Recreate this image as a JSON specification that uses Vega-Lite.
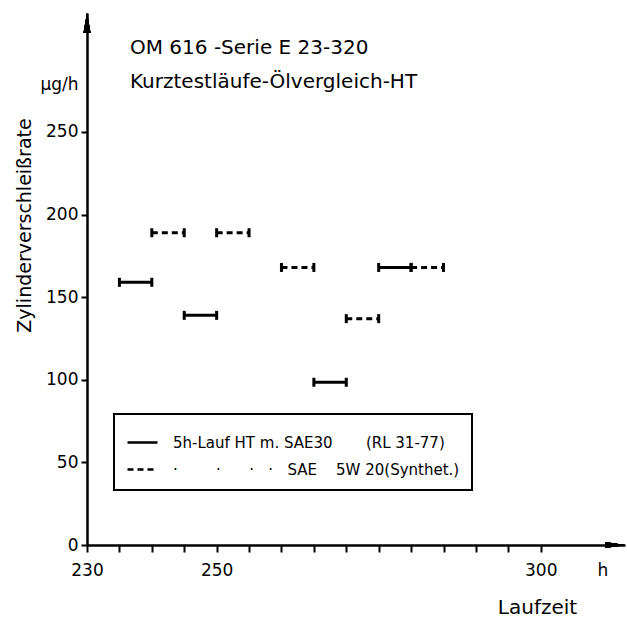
{
  "$schema": "https://vega.github.io/schema/vega-lite/v6.json",
  "width": 538,
  "height": 532,
  "autosize": "none",
  "padding": {"left": 87, "top": 13, "right": 2, "bottom": 73},
  "background": "white",
  "title": {
    "text": ["OM 616 -Serie E 23-320", "Kurztestläufe-Ölvergleich-HT"],
    "anchor": "start",
    "frame": "group",
    "orient": "top",
    "offset": 0,
    "baseline": "top",
    "dx": 43,
    "dy": 79,
    "font": "DejaVu Sans",
    "fontSize": 20,
    "fontWeight": "normal",
    "lineHeight": 34,
    "color": "black"
  },
  "data": {
    "values": [
      {"start": 235, "end": 240, "rate": 159, "oil": "SAE 30 (RL 31-77)"},
      {"start": 245, "end": 250, "rate": 139, "oil": "SAE 30 (RL 31-77)"},
      {"start": 265, "end": 270, "rate": 98.5, "oil": "SAE 30 (RL 31-77)"},
      {"start": 275, "end": 280, "rate": 168, "oil": "SAE 30 (RL 31-77)"},
      {"start": 240, "end": 245, "rate": 189, "oil": "SAE 5W 20 (Synthet.)"},
      {"start": 250, "end": 255, "rate": 189, "oil": "SAE 5W 20 (Synthet.)"},
      {"start": 260, "end": 265, "rate": 168, "oil": "SAE 5W 20 (Synthet.)"},
      {"start": 270, "end": 275, "rate": 137, "oil": "SAE 5W 20 (Synthet.)"},
      {"start": 280, "end": 285, "rate": 168, "oil": "SAE 5W 20 (Synthet.)"}
    ]
  },
  "layer": [
    {
      "mark": {"type": "rule", "color": "black", "strokeWidth": 3},
      "encoding": {
        "x": {
          "field": "start", "type": "quantitative",
          "scale": {"domain": [230, 313], "nice": false, "zero": false},
          "axis": {
            "title": "Laufzeit",
            "values": [230, 235, 240, 245, 250, 255, 260, 265, 270, 275, 280, 285, 290, 295, 300, 309.5],
            "tickCount": 40,
            "labelExpr": "datum.value > 305 ? 'h' : ((datum.value == 230 || datum.value == 250 || datum.value == 300) ? datum.label : '')",
            "tickOpacity": {"condition": {"test": "datum.value > 305", "value": 0}, "value": 1},
            "labelFlush": false,
            "labelOverlap": false,
            "tickSize": 7,
            "labelPadding": 10,
            "titleX": 450,
            "titleY": 68,
            "titleAlign": "center",
            "titleBaseline": "alphabetic",
            "titleFontSize": 20
          }
        },
        "x2": {"field": "end"},
        "y": {
          "field": "rate", "type": "quantitative",
          "scale": {"domain": [0, 322], "nice": false},
          "axis": {
            "title": "Zylinderverschleißrate",
            "values": [0, 50, 100, 150, 200, 250, 279],
            "tickCount": 40,
            "labelExpr": "datum.value > 260 ? 'µg/h' : datum.label",
            "tickOpacity": {"condition": {"test": "datum.value > 260", "value": 0}, "value": 1},
            "labelOverlap": false,
            "tickSize": 6,
            "labelPadding": 3,
            "titleX": -57,
            "titleY": 212,
            "titleAngle": 270,
            "titleAlign": "center",
            "titleBaseline": "alphabetic",
            "titleFontSize": 19
          }
        },
        "strokeDash": {
          "field": "oil", "type": "nominal",
          "scale": {"domain": ["SAE 30 (RL 31-77)", "SAE 5W 20 (Synthet.)"], "range": [[1, 0], [6, 4]]},
          "legend": {
            "orient": "none",
            "legendX": 27,
            "legendY": 401,
            "title": null,
            "labelExpr": "datum.label == 'SAE 30 (RL 31-77)' ? '5h-Lauf HT m. SAE30\u00a0\u00a0\u00a0\u00a0\u00a0\u00a0\u00a0(RL 31-77)\u00a0\u00a0\u00a0\u00a0\u00a0\u00a0\u00a0\u00a0\u00a0\u00a0\u00a0\u00a0' : '\u00a0\u00a0·\u00a0\u00a0\u00a0\u00a0\u00a0\u00a0\u00a0\u00a0·\u00a0\u00a0\u00a0\u00a0\u00a0\u00a0·\u00a0\u00a0\u00a0·\u00a0\u00a0\u00a0SAE\u00a0\u00a0\u00a0\u00a05W 20(Synthet.)'"
          }
        }
      }
    },
    {
      "mark": {"type": "tick", "orient": "vertical", "color": "black", "size": 9, "thickness": 3, "opacity": 1},
      "encoding": {
        "x": {"field": "start", "type": "quantitative"},
        "y": {"field": "rate", "type": "quantitative"}
      }
    },
    {
      "mark": {"type": "tick", "orient": "vertical", "color": "black", "size": 9, "thickness": 3, "opacity": 1},
      "encoding": {
        "x": {"field": "end", "type": "quantitative"},
        "y": {"field": "rate", "type": "quantitative"}
      }
    },
    {
      "mark": {"type": "point", "shape": "M0,0L-0.7,4L0.7,4Z", "filled": true, "size": 100, "color": "black", "opacity": 1, "clip": false},
      "encoding": {
        "x": {"datum": 230, "type": "quantitative"},
        "y": {"datum": 322, "type": "quantitative"}
      }
    },
    {
      "mark": {"type": "point", "shape": "M0,0L-4,-0.6L-4,0.6Z", "filled": true, "size": 100, "color": "black", "opacity": 1, "clip": false},
      "encoding": {
        "x": {"datum": 313, "type": "quantitative"},
        "y": {"datum": 0, "type": "quantitative"}
      }
    }
  ],
  "config": {
    "view": {"stroke": null},
    "font": "DejaVu Sans",
    "axis": {
      "grid": false,
      "domainColor": "black",
      "domainWidth": 2.5,
      "tickColor": "black",
      "tickWidth": 2,
      "labelColor": "black",
      "labelFont": "DejaVu Sans",
      "labelFontSize": 17,
      "titleColor": "black",
      "titleFont": "DejaVu Sans",
      "titleFontWeight": "normal"
    },
    "legend": {
      "strokeColor": "black",
      "strokeWidth": 2,
      "padding": 12,
      "symbolType": "stroke",
      "symbolSize": 900,
      "symbolStrokeWidth": 2.5,
      "symbolStrokeColor": "black",
      "labelFont": "DejaVu Sans",
      "labelFontSize": 15,
      "labelColor": "black",
      "labelOffset": 14,
      "labelLimit": 500,
      "rowPadding": 2
    }
  }
}
